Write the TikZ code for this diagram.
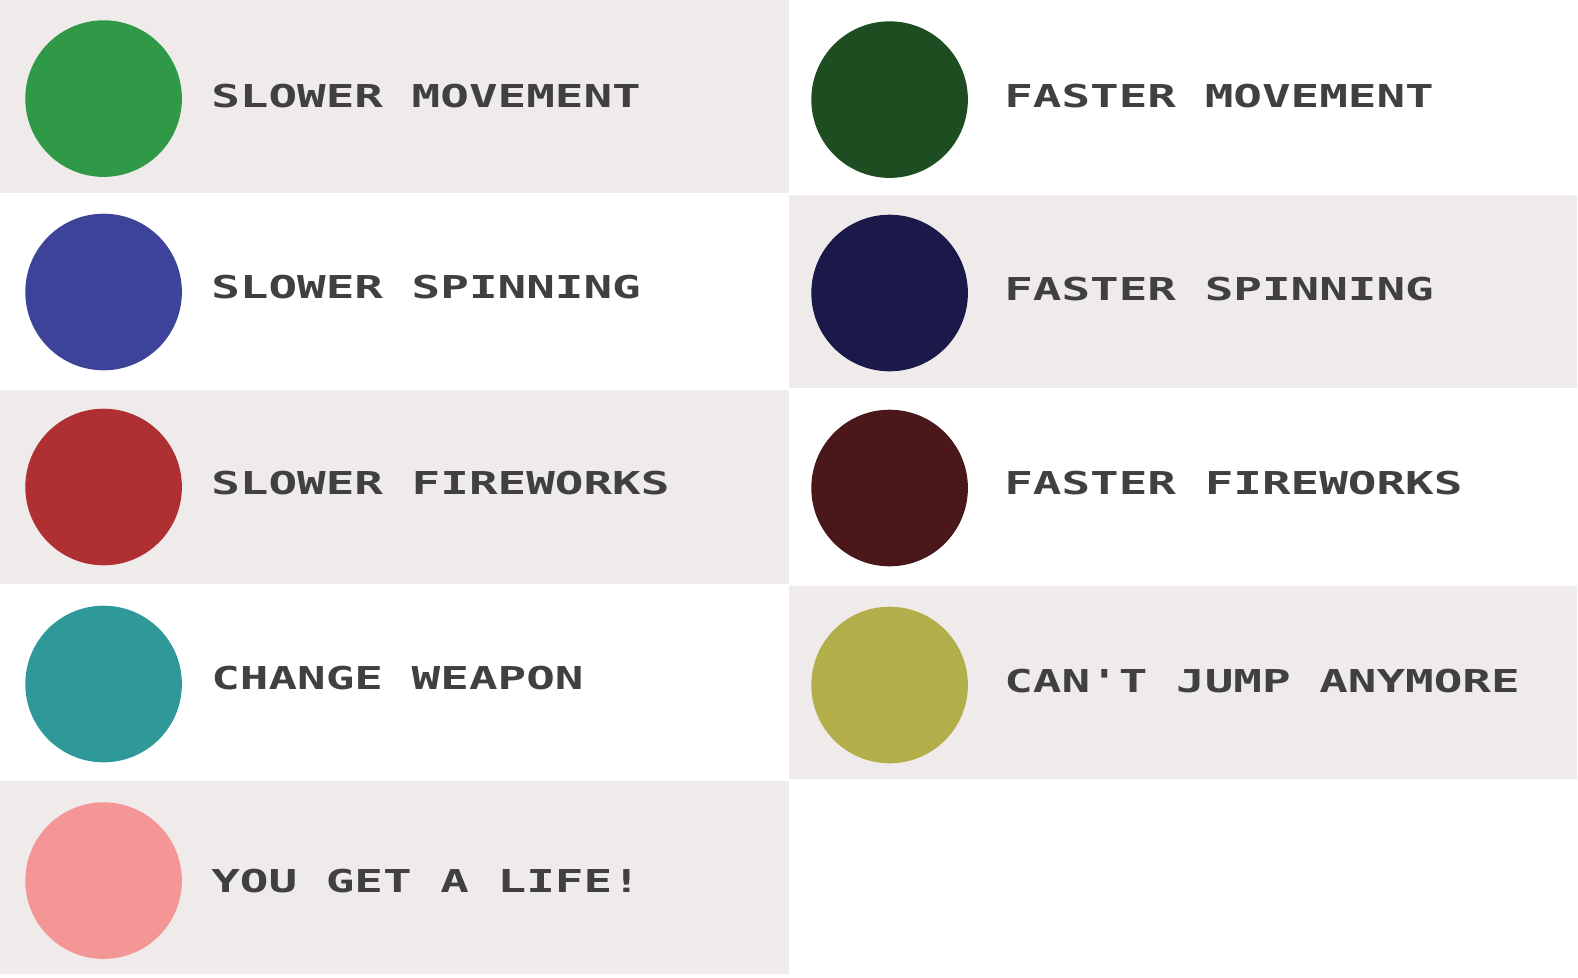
\documentclass[tikz,border=0pt]{standalone}
\usepackage{fontspec}
\usepackage{tikz}
\usetikzlibrary{positioning}
\newfontfamily\pixelfont[FakeStretch=1.51]{DejaVu Sans Mono}
\definecolor{rowgray}{RGB}{240,235,235}
\definecolor{labelgray}{RGB}{64,64,64}
\definecolor{pwgreen}{RGB}{47,153,72}
\definecolor{pwdarkgreen}{RGB}{30,77,34}
\definecolor{pwblue}{RGB}{61,67,153}
\definecolor{pwnavy}{RGB}{27,24,74}
\definecolor{pwred}{RGB}{175,48,50}
\definecolor{pwdarkred}{RGB}{74,24,25}
\definecolor{pwteal}{RGB}{47,152,152}
\definecolor{pwolive}{RGB}{178,175,74}
\definecolor{pwpink}{RGB}{245,150,150}

\begin{document}
\begin{tikzpicture}[
		x=1pt, y=-1pt,
		node distance=29pt,
		orb/.style={circle, inner sep=0pt, minimum size=156.6pt},
		lbl/.style={inner sep=0pt, text height=23pt, text depth=0pt, text=labelgray,
			font=\pixelfont\bfseries\fontsize{31.5}{32}\selectfont}
		]
		\useasboundingbox (0,0) rectangle (1578,977);
		% row backgrounds
		\fill[rowgray] (0,0) rectangle (788.7,193);
		\fill[rowgray] (0,390) rectangle (788.7,584);
		\fill[rowgray] (0,781) rectangle (788.7,974);
		\fill[rowgray] (788.7,195) rectangle (1577,388);
		\fill[rowgray] (788.7,586) rectangle (1577,779);
		
		% left column
		\node[orb, fill=pwgreen] (slowmove) at (103.6,98.6) {};
		\node[orb, fill=pwblue] (slowspin) at (103.6,292) {};
		\node[orb, fill=pwred] (slowfire) at (103.6,487) {};
		\node[orb, fill=pwteal] (weapon) at (103.6,684) {};
		\node[orb, fill=pwpink] (life) at (103.6,880.6) {};
		
		\node[lbl, right=of slowmove, yshift=3pt] (slowmovetxt) {SLOWER MOVEMENT};
		\node[lbl, right=of slowspin, yshift=5.3pt] (slowspintxt) {SLOWER SPINNING};
		\node[lbl, right=of slowfire, yshift=4.2pt] (slowfiretxt) {SLOWER FIREWORKS};
		\node[lbl, right=of weapon, yshift=6.2pt] (weapontxt) {CHANGE WEAPON};
		\node[lbl, right=of life, yshift=-0.6pt] (lifetxt) {YOU GET A LIFE!};
		
		% right column
		\node[orb, fill=pwdarkgreen] (fastmove) at (889.6,99.6) {};
		\node[orb, fill=pwnavy] (fastspin) at (889.6,293) {};
		\node[orb, fill=pwdarkred] (fastfire) at (889.6,488) {};
		\node[orb, fill=pwolive] (nojump) at (889.6,685) {};
		
		\node[lbl, right=36pt of fastmove, yshift=3.6pt] (fastmovetxt) {FASTER MOVEMENT};
		\node[lbl, right=36pt of fastspin, yshift=3.8pt] (fastspintxt) {FASTER SPINNING};
		\node[lbl, right=36pt of fastfire, yshift=5pt] (fastfiretxt) {FASTER FIREWORKS};
		\node[lbl, right=36pt of nojump, yshift=4pt] (nojumptxt) {CAN'T JUMP ANYMORE};
	\end{tikzpicture}
\end{document}
